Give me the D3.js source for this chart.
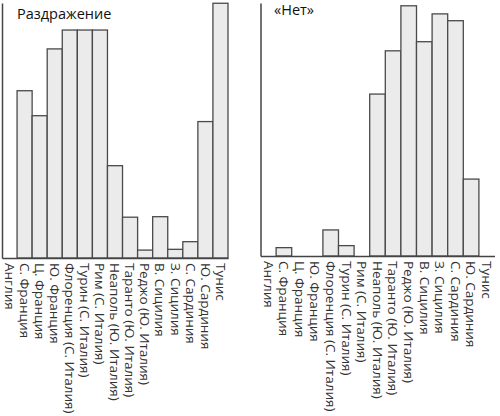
<!DOCTYPE html>
<html>
<head>
<meta charset="utf-8">
<script src="https://cdn.jsdelivr.net/npm/d3@7"></script>
<style>
	body { margin: 0; background: #fff; }
	.label { font-family: "Open Sans", sans-serif; font-size: 13.5px; fill: #333; }
	.title { font-family: "Open Sans", sans-serif; font-size: 14.5px; fill: #111; }
</style>
</head>
<body>
<div id="chart"></div>
<script>
// ---------- DATA ----------
const regions = [
	"Англия",
	"С. Франция",
	"Ц. Франция",
	"Ю. Франция",
	"Флоренция (С. Италия)",
	"Турин (С. Италия)",
	"Рим (С. Италия)",
	"Неаполь (Ю. Италия)",
	"Таранто (Ю. Италия)",
	"Реджо (Ю. Италия)",
	"В. Сицилия",
	"З. Сицилия",
	"С. Сардиния",
	"Ю. Сардиния",
	"Тунис",
];

// share of answers (0..100)
const irritation = [0, 65.6, 55.8, 82, 89.4, 89.4, 89.4, 36.2, 16, 3.1, 16.2, 3.4, 6.4, 53.5, 99.9];
const no = [0, 3.3, 0, 0, 10.3, 4.1, 0, 64, 81.1, 98.9, 84.7, 95.7, 93, 30.4, 0];

const titles = ["Раздражение", "«Нет»"];

// ---------- LAYOUT ----------
const svg = d3
	.select("#chart")
	.append("svg")
	.attr("width", 500)
	.attr("height", 416);

const panels = [
	{ title: titles[0], values: irritation, x0: 2, x1: 228, base: 258, top: 3, tx: 17, ty: 19 },
	{ title: titles[1], values: no, x0: 260.5, x1: 494.5, base: 256, top: 3, tx: 274, ty: 15 },
];

panels.forEach(drawPanel);

function drawPanel(p) {
	const g = svg.append("g");

	const x = d3.scaleBand().domain(regions).range([p.x0, p.x1]).padding(0);
	const y = d3.scaleLinear().domain([0, 100]).range([p.base, p.top]);

	const rows = regions.map((r, i) => ({ region: r, value: p.values[i] }));

	g.selectAll("rect")
		.data(rows.filter((d) => d.value > 0))
		.enter()
		.append("rect")
		.attr("x", (d) => x(d.region))
		.attr("y", (d) => y(d.value))
		.attr("width", x.bandwidth())
		.attr("height", (d) => y(0) - y(d.value))
		.attr("fill", "#ebebeb")
		.attr("stroke", "#4a4a4a")
		.attr("stroke-width", 1.3);

	// baseline + category labels
	const xAxis = g
		.append("g")
		.attr("transform", `translate(0,${p.base})`)
		.call(d3.axisBottom(x).tickSize(0).tickPadding(0).tickSizeOuter(0));

	xAxis.select(".domain").attr("stroke", "#444").attr("stroke-width", 1.5);
	xAxis
		.selectAll("text")
		.attr("class", "label")
		.attr("font-family", null)
		.attr("transform", "rotate(90)")
		.attr("x", 5)
		.attr("y", 0)
		.attr("dy", "0.35em")
		.style("text-anchor", "start");

	// vertical axis, no ticks
	const yAxis = g
		.append("g")
		.attr("transform", `translate(${p.x0},0)`)
		.call(d3.axisLeft(y).tickValues([]).tickSizeOuter(0));
	yAxis.select(".domain").attr("stroke", "#444").attr("stroke-width", 1.5);

	g.append("text")
		.attr("class", "title")
		.attr("x", p.tx)
		.attr("y", p.ty)
		.text(p.title);
}
</script>
</body>
</html>
